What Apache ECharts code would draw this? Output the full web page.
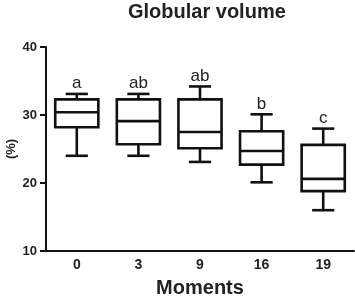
<!DOCTYPE html>
<html>
<head>
<meta charset="utf-8">
<script src="https://cdn.jsdelivr.net/npm/echarts@6/dist/echarts.min.js"></script>
<style>
  html, body { margin: 0; padding: 0; background: #fff; }
  #chart { width: 355px; height: 297px; }
</style>
</head>
<body>
<div id="chart"></div>
<script>
var chart = echarts.init(document.getElementById('chart'));

// data
const moments = ['0', '3', '9', '16', '19'];
const whiskerLow = [24.0, 24.0, 23.1, 20.1, 16.0];
const q1 = [28.2, 25.7, 25.1, 22.7, 18.8];
const medians = [30.4, 29.1, 27.5, 24.7, 20.6];
const q3 = [32.3, 32.3, 32.3, 27.6, 25.6];
const whiskerHigh = [33.1, 33.1, 34.2, 30.1, 28.0];
const letters = ['a', 'ab', 'ab', 'b', 'c'];

const boxData = moments.map(function (m, i) {
  return [i, whiskerLow[i], q1[i], medians[i], q3[i], whiskerHigh[i]];
});

const FONT = 'Liberation Sans, Arial, sans-serif';
const INK = '#111';

function renderBox(params, api) {
  var i = api.value(0);
  var band = api.size([1, 0])[0];
  var half = band * 0.35;
  var cap = band * 0.18;
  var pLow = api.coord([i, api.value(1)]);
  var pQ1 = api.coord([i, api.value(2)]);
  var pMed = api.coord([i, api.value(3)]);
  var pQ3 = api.coord([i, api.value(4)]);
  var pHigh = api.coord([i, api.value(5)]);
  var x = pMed[0];
  var style = { stroke: INK, lineWidth: 2.6, fill: 'none' };
  return {
    type: 'group',
    children: [
      { type: 'line', shape: { x1: x, y1: pHigh[1], x2: x, y2: pQ3[1] }, style: style },
      { type: 'line', shape: { x1: x, y1: pQ1[1], x2: x, y2: pLow[1] }, style: style },
      { type: 'line', shape: { x1: x - cap, y1: pHigh[1], x2: x + cap, y2: pHigh[1] }, style: style },
      { type: 'line', shape: { x1: x - cap, y1: pLow[1], x2: x + cap, y2: pLow[1] }, style: style },
      { type: 'rect', shape: { x: x - half, y: pQ3[1], width: half * 2, height: pQ1[1] - pQ3[1] },
        style: { stroke: INK, lineWidth: 2.6, fill: '#fff' } },
      { type: 'line', shape: { x1: x - half, y1: pMed[1], x2: x + half, y2: pMed[1] }, style: style },
      { type: 'text', x: x, y: pHigh[1] - 2,
        style: { text: letters[i], fill: '#222', font: '17px ' + FONT,
                 textAlign: 'center', textVerticalAlign: 'bottom' } }
    ]
  };
}

const option = {
  animation: false,
  title: {
    text: 'Globular volume',
    left: 128,
    top: 2,
    padding: 0,
    textStyle: { fontFamily: FONT, fontSize: 20, fontWeight: 'bold', color: '#222' }
  },
  grid: { left: 46, right: 1, top: 47, bottom: 46, outerBoundsMode: 'none' },
  xAxis: {
    type: 'category',
    data: moments,
    name: 'Moments',
    nameLocation: 'middle',
    nameGap: 27,
    nameMoveOverlap: false,
    nameTextStyle: { fontFamily: FONT, fontSize: 20, fontWeight: 'bold', color: '#222' },
    axisLine: { lineStyle: { color: INK, width: 2 } },
    axisTick: { alignWithLabel: true, length: 5, lineStyle: { color: INK, width: 2 } },
    axisLabel: { margin: 7, fontFamily: FONT, fontSize: 14, fontWeight: 'bold', color: '#222' },
    splitLine: { show: false }
  },
  yAxis: {
    type: 'value',
    min: 10,
    max: 40,
    interval: 10,
    name: '(%)',
    nameLocation: 'middle',
    nameRotate: 90,
    nameGap: 28,
    nameMoveOverlap: false,
    nameTextStyle: { fontFamily: FONT, fontSize: 13, fontWeight: 'bold', color: '#222' },
    axisLine: { show: true, lineStyle: { color: INK, width: 2 } },
    axisTick: { show: true, length: 6, lineStyle: { color: INK, width: 2 } },
    axisLabel: { margin: 9, fontFamily: FONT, fontSize: 13, fontWeight: 'bold', color: '#222' },
    splitLine: { show: false }
  },
  series: [{
    type: 'custom',
    renderItem: renderBox,
    encode: { x: 0, y: [1, 2, 3, 4, 5] },
    data: boxData,
    clip: false
  }]
};

chart.setOption(option);
</script>
</body>
</html>
